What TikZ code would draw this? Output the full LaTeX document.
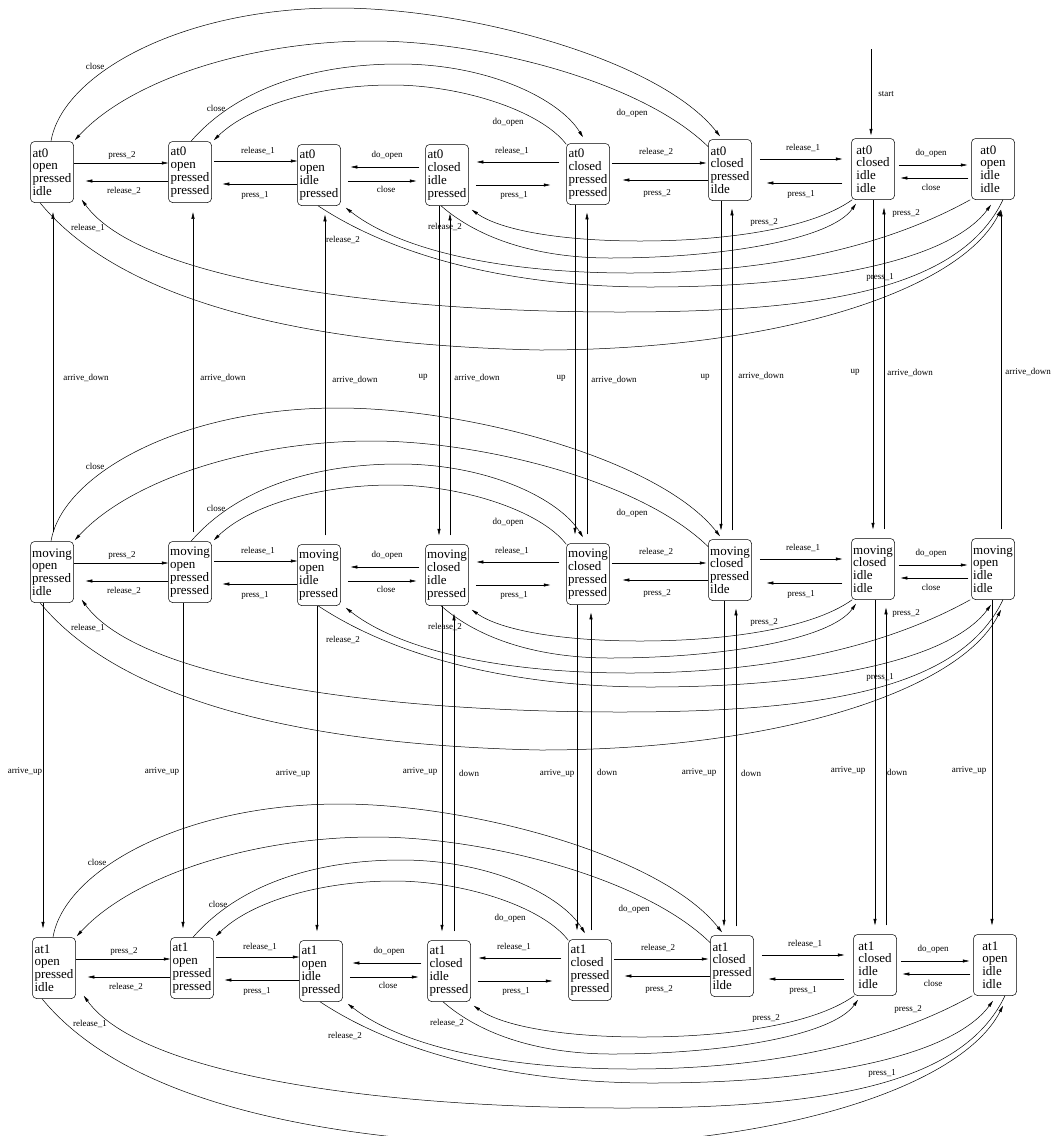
\documentclass[tikz,border=0pt]{standalone}
\usepackage{fontspec}
\setmainfont{Liberation Serif}
\usetikzlibrary{arrows.meta}
\tikzset{
  st/.style={draw, rounded corners=4pt, minimum width=43pt, minimum height=61pt,
    inner sep=0pt, align=left, font=\fontsize{13}{12.8}\selectfont},
  lab/.style={font=\fontsize{9}{10}\selectfont, inner sep=0pt},
}
\newcommand\staterow[3]{%
\begin{scope}[shift={#3}]
\node[st] (#11) at (52,172) {#2\\open\\pressed\\idle};
\node[st] (#12) at (190,172) {#2\\open\\pressed\\pressed};
\node[st] (#13) at (319,175) {#2\\open\\idle\\pressed};
\node[st] (#14) at (447,175) {#2\\closed\\idle\\pressed};
\node[st] (#15) at (588,174) {#2\\closed\\pressed\\pressed};
\node[st] (#16) at (730,170) {#2\\closed\\pressed\\ilde};
\node[st] (#17) at (873,169) {#2\\closed\\idle\\idle};
\node[st] (#18) at (993,169) {#2\\open\\idle\\idle};
% horizontal edges
\draw[->] ([yshift=9pt]#11.east) -- ([yshift=9pt]#12.west);
\draw[->] ([yshift=-9pt]#12.west) -- ([xshift=12pt,yshift=-9pt]#11.east);
\draw[->] ([xshift=2pt,yshift=11pt]#12.east) -- ([yshift=14pt]#13.west);
\draw[->] ([yshift=-9pt]#13.west) -- ([xshift=11pt,yshift=-12pt]#12.east);
\draw[->] ([xshift=-6pt,yshift=8pt]#14.west) -- ([xshift=10pt,yshift=8pt]#13.east);
\draw[->] ([xshift=7pt,yshift=-6pt]#13.east) -- ([xshift=-9pt,yshift=-6pt]#14.west);
\draw[->] ([xshift=-7pt,yshift=12pt]#15.west) -- ([xshift=8pt,yshift=13pt]#14.east);
\draw[->] ([xshift=7pt,yshift=-10pt]#14.east) -- ([xshift=-16pt,yshift=-11pt]#15.west);
\draw[->] ([xshift=2pt,yshift=11pt]#15.east) -- ([xshift=-2pt,yshift=7pt]#16.west);
\draw[->] ([yshift=-10pt]#16.west) -- ([xshift=13pt,yshift=-6pt]#15.east);
\draw[->] ([xshift=8pt,yshift=11pt]#16.east) -- ([xshift=-9pt,yshift=10pt]#17.west);
\draw[->] ([xshift=-9pt,yshift=-14pt]#17.west) -- ([xshift=15pt,yshift=-13pt]#16.east);
\draw[->] ([xshift=4pt,yshift=4pt]#17.east) -- ([xshift=-4pt,yshift=4pt]#18.west);
\draw[->] ([xshift=-3pt,yshift=-9pt]#18.west) -- ([xshift=6pt,yshift=-9pt]#17.east);
\node[lab] (#1L1) at (122,155) {press\_2};
\node[lab] (#1L2) at (124,191) {release\_2};
\node[lab] (#1L3) at (258,151) {release\_1};
\node[lab] (#1L4) at (255,195) {press\_1};
\node[lab] (#1L5) at (387,155) {do\_open};
\node[lab] (#1L6) at (386,189) {close};
\node[lab] (#1L7) at (512,151) {release\_1};
\node[lab] (#1L8) at (514,195) {press\_1};
\node[lab] (#1L9) at (656,152) {release\_2};
\node[lab] (#1L10) at (657,193) {press\_2};
\node[lab] (#1L11) at (803,148) {release\_1};
\node[lab] (#1L12) at (801,194) {press\_1};
\node[lab] (#1L13) at (931,153) {do\_open};
\node[lab] (#1L14) at (931,187) {close};
% top arcs
\draw[->] ([xshift=-1pt]#11.north) .. controls (62,75) and (180,8) .. (338,8)
  .. controls (470,8) and (660,60) .. ([xshift=-10pt,yshift=3pt]#16.north);
\draw[->] ([yshift=-7.5pt]#16.north west) .. controls (640,80) and (480,41) .. (372,41)
  .. controls (250,41) and (130,80) .. ([xshift=1pt,yshift=1pt]#11.north east);
\draw[->] ([xshift=1pt]#12.north) .. controls (240,85) and (320,64) .. (399,64)
  .. controls (490,64) and (560,100) .. ([xshift=-5pt,yshift=6pt]#15.north);
\draw[->] ([yshift=-1pt]#15.north west) .. controls (540,110) and (460,85) .. (392,85)
  .. controls (320,85) and (250,105) .. ([xshift=2pt,yshift=1pt]#12.north east);
\node[lab] (#1L15) at (95,66) {close};
\node[lab] (#1L16) at (632,113) {do\_open};
\node[lab] (#1L17) at (216,108) {close};
\node[lab] (#1L18) at (508,122) {do\_open};
% bottom arcs
\draw[->] ([xshift=-12pt]#11.south) .. controls (120,300) and (300,345) .. (540,350)
  .. controls (780,350) and (960,290) .. ([xshift=8pt,yshift=-10pt]#18.south);
\draw[->] ([xshift=10pt]#18.south) .. controls (960,290) and (820,312) .. (620,312)
  .. controls (380,312) and (140,280) .. ([xshift=8pt,yshift=3pt]#11.south east);
\draw[->] ([xshift=-1pt]#13.south) .. controls (400,260) and (520,287) .. (650,287)
  .. controls (820,287) and (950,260) .. ([xshift=-2pt,yshift=-5pt]#18.south);
\draw[->] ([xshift=-1pt]#18.south west) .. controls (880,250) and (760,273) .. (630,273)
  .. controls (500,273) and (400,250) .. ([xshift=5pt,yshift=-2pt]#13.south east);
\draw[->] ([xshift=-6pt]#14.south) .. controls (480,240) and (540,258) .. (610,258)
  .. controls (720,258) and (830,240) .. ([xshift=-17pt,yshift=-4pt]#17.south);
\draw[->] ([xshift=1pt]#17.south west) .. controls (810,230) and (720,241) .. (640,241)
  .. controls (560,241) and (500,230) .. ([xshift=3pt,yshift=-4pt]#14.south east);
\node[lab] (#1L19) at (88,228) {release\_1};
\node[lab] (#1L20) at (880,277) {press\_1};
\node[lab] (#1L21) at (343,240) {release\_2};
\node[lab] (#1L22) at (906,213) {press\_2};
\node[lab] (#1L23) at (445,227) {release\_2};
\node[lab] (#1L24) at (764,222) {press\_2};
\end{scope}}

\begin{document}
\begin{tikzpicture}[x=1pt,y=-1pt,>={Triangle[length=6.5pt,width=3pt]},line width=0.5pt]
\useasboundingbox (0,0) rectangle (1055,1136);
\fill[white] (0,0) rectangle (1055,1136);
\clip (0,0) rectangle (1055,1136);
\staterow{a}{at0}{(0,0)}
\staterow{m}{moving}{(0,400)}
\staterow{b}{at1}{(2,796)}
% start
\coordinate (s0) at (871,49);
\draw[->] (s0) -- ([xshift=-2pt,yshift=3pt]a7.north);
\node[lab] (startlab) at (886,94) {start};
% between at0 and moving
\draw[->] ([xshift=1pt,yshift=9pt]m1.north) -- ([xshift=1pt,yshift=-9.5pt]a1.south);
\draw[->] ([xshift=3pt,yshift=9pt]m2.north) -- ([xshift=3pt,yshift=-9.5pt]a2.south);
\draw[->] ([xshift=6pt,yshift=9pt]m3.north) -- ([xshift=6pt,yshift=-9pt]a3.south);
\draw[->] ([xshift=-8pt]a4.south) -- ([xshift=-8pt,yshift=9pt]m4.north);
\draw[->] ([xshift=3pt,yshift=9pt]m4.north) -- ([xshift=3pt,yshift=-8pt]a4.south);
\draw[->] ([xshift=-13pt]a5.south) -- ([xshift=-13pt,yshift=9pt]m5.north);
\draw[->] ([xshift=-1pt,yshift=9pt]m5.north) -- ([xshift=-1pt,yshift=-8pt]a5.south);
\draw[->] ([xshift=-9pt]a6.south) -- ([xshift=-9pt,yshift=9pt]m6.north);
\draw[->] ([xshift=2pt,yshift=9pt]m6.north) -- ([xshift=2pt,yshift=-8pt]a6.south);
\draw[->] (a7.south) -- ([yshift=9pt]m7.north);
\draw[->] ([xshift=11pt,yshift=9pt]m7.north) -- ([xshift=11pt,yshift=-8pt]a7.south);
\draw[->] ([xshift=8pt,yshift=9pt]m8.north) -- ([xshift=8pt,yshift=-10pt]a8.south);
\node[lab] (v1) at (86,378) {arrive\_down};
\node[lab] (v2) at (223,378) {arrive\_down};
\node[lab] (v3) at (355,380) {arrive\_down};
\node[lab] (v4) at (423,377) {up};
\node[lab] (v5) at (477,378) {arrive\_down};
\node[lab] (v6) at (561,378) {up};
\node[lab] (v7) at (614,380) {arrive\_down};
\node[lab] (v8) at (705,377) {up};
\node[lab] (v9) at (761,376) {arrive\_down};
\node[lab] (v10) at (855,372) {up};
\node[lab] (v11) at (910,373) {arrive\_down};
\node[lab] (v12) at (1028,372) {arrive\_down};
% between moving and at1
\draw[->] ([xshift=-9pt]m1.south) -- ([xshift=-11pt,yshift=9pt]b1.north);
\draw[->] ([xshift=-7pt]m2.south) -- ([xshift=-9pt,yshift=9pt]b2.north);
\draw[->] ([xshift=-2pt]m3.south) -- ([xshift=-4pt,yshift=9pt]b3.north);
\draw[->] ([xshift=-5pt]m4.south) -- ([xshift=-7pt,yshift=9pt]b4.north);
\draw[->] ([xshift=5pt,yshift=9pt]b4.north) -- ([xshift=7pt,yshift=-8pt]m4.south);
\draw[->] ([xshift=-11pt]m5.south) -- ([xshift=-13pt,yshift=9pt]b5.north);
\draw[->] ([xshift=1pt,yshift=9pt]b5.north) -- ([xshift=3pt,yshift=-8pt]m5.south);
\draw[->] ([xshift=-6pt]m6.south) -- ([xshift=-8pt,yshift=9pt]b6.north);
\draw[->] ([xshift=4pt,yshift=9pt]b6.north) -- ([xshift=6pt,yshift=-8pt]m6.south);
\draw[->] ([xshift=2pt]m7.south) -- ([yshift=9pt]b7.north);
\draw[->] ([xshift=11pt,yshift=9pt]b7.north) -- ([xshift=13pt,yshift=-8pt]m7.south);
\draw[->] ([xshift=-1pt]m8.south) -- ([xshift=-3pt,yshift=9pt]b8.north);
\node[lab] (w1) at (25,771) {arrive\_up};
\node[lab] (w2) at (162,771) {arrive\_up};
\node[lab] (w3) at (293,773) {arrive\_up};
\node[lab] (w4) at (420,771) {arrive\_up};
\node[lab] (w5) at (469,773) {down};
\node[lab] (w6) at (557,773) {arrive\_up};
\node[lab] (w7) at (607,772) {down};
\node[lab] (w8) at (699,772) {arrive\_up};
\node[lab] (w9) at (751,773) {down};
\node[lab] (w10) at (848,770) {arrive\_up};
\node[lab] (w11) at (897,772) {down};
\node[lab] (w12) at (969,770) {arrive\_up};
\end{tikzpicture}
\end{document}
